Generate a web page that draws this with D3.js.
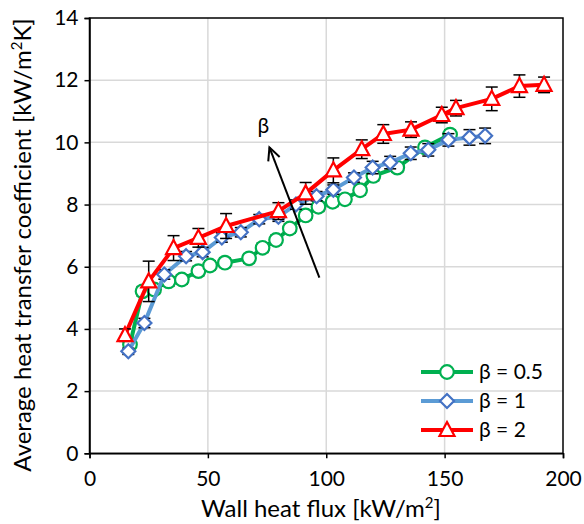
<!DOCTYPE html>
<html><head><meta charset="utf-8">
<script src="https://cdn.jsdelivr.net/npm/d3@7"></script>
<style>body{margin:0;background:#fff;} svg{display:block;font-family:Lato, "Noto Sans", sans-serif;}</style>
</head><body>
<svg id="c" width="584" height="524"></svg>
<script>
// ---- data ----
const greenX = [17.1, 22.4, 27.3, 33.4, 39, 46, 50.9, 57.2, 67.4, 73.1, 78.8, 84.6, 91.3, 96.7, 102.7, 107.9, 114.3, 119.9, 130, 141.7, 152.3];
const greenY = [3.5, 5.21, 5.27, 5.53, 5.59, 5.86, 6.04, 6.13, 6.27, 6.61, 6.86, 7.23, 7.65, 7.93, 8.09, 8.17, 8.46, 8.92, 9.19, 9.84, 10.25];
const greenErr = [0.1, 0.15, 0.15, 0.15, 0.15, 0.15, 0.15, 0.15, 0.15, 0.15, 0.15, 0.15, 0.15, 0.15, 0.15, 0.15, 0.15, 0.15, 0.15, 0.15, 0.15];

const blueX = [16.4, 23.2, 31.6, 40.8, 47.8, 55.9, 63.9, 71.7, 79.8, 87.2, 95.9, 103, 111.7, 119.6, 127, 135.7, 143.1, 151.6, 160.5, 167.1];
const blueY = [3.28, 4.19, 5.75, 6.34, 6.47, 6.94, 7.11, 7.53, 7.61, 8.0, 8.27, 8.48, 8.87, 9.19, 9.35, 9.65, 9.76, 10.08, 10.16, 10.21];
const blueErr = [0.1, 0.15, 0.15, 0.15, 0.15, 0.15, 0.15, 0.15, 0.15, 0.15, 0.15, 0.15, 0.15, 0.2, 0.2, 0.2, 0.2, 0.2, 0.25, 0.25];

const redX = [15, 25, 35.5, 46, 57.7, 79.8, 91.3, 103, 115, 124.1, 135.8, 148.8, 154.8, 169.9, 181.6, 192];
const redY = [3.8, 5.53, 6.6, 6.93, 7.31, 7.79, 8.36, 9.1, 9.78, 10.27, 10.41, 10.88, 11.1, 11.4, 11.81, 11.85];
const redErr = [0.2, 0.65, 0.4, 0.3, 0.4, 0.27, 0.35, 0.4, 0.3, 0.3, 0.25, 0.25, 0.25, 0.38, 0.36, 0.25];

const seriesNames = ["β = 0.5", "β = 1", "β = 2"];
const xTicks = [0, 50, 100, 150, 200];
const yTicks = [0, 2, 4, 6, 8, 10, 12, 14];
const arrowFrom = [97.1, 5.65];
const arrowTo = [76, 9.84];

// ---- layout ----
const L = 89.5, R = 563, T = 18, B = 453.3;
const svg = d3.select("#c");
const x = d3.scaleLinear().domain([0, 200]).range([L, R]);
const y = d3.scaleLinear().domain([0, 14]).range([B, T]);

// gridlines
svg.append("g").selectAll("line.h").data(yTicks.filter(d => d > 0 && d < 14)).join("line")
  .attr("x1", L).attr("x2", R).attr("y1", d => y(d)).attr("y2", d => y(d))
  .attr("stroke", "#d9d9d9").attr("stroke-width", 1.5);
svg.append("g").selectAll("line.v").data(xTicks.filter(d => d > 0 && d < 200)).join("line")
  .attr("y1", T).attr("y2", B).attr("x1", d => x(d)).attr("x2", d => x(d))
  .attr("stroke", "#d9d9d9").attr("stroke-width", 1.5);

// frame
svg.append("rect").attr("x", L).attr("y", T).attr("width", R - L).attr("height", B - T)
  .attr("fill", "none").attr("stroke", "#000").attr("stroke-width", 1.5);

// axes
const xAxis = svg.append("g").attr("transform", `translate(0,${B})`)
  .call(d3.axisBottom(x).tickValues(xTicks).tickSize(5).tickPadding(13));
const yAxis = svg.append("g").attr("transform", `translate(${L},0)`)
  .call(d3.axisLeft(y).tickValues(yTicks).tickSize(5).tickPadding(6));
[xAxis, yAxis].forEach(a => {
  a.select(".domain").attr("stroke", "#000").attr("stroke-width", 1.5);
  a.selectAll(".tick line").attr("stroke", "#000").attr("stroke-width", 1.5);
  a.selectAll("text").attr("font-size", 21).attr("fill", "#000").attr("font-family", "Lato, sans-serif");
});

// series
const series = [
  {xs: greenX, ys: greenY, es: greenErr, color: "#00b050", stroke: "#00b050", marker: "circle"},
  {xs: blueX, ys: blueY, es: blueErr, color: "#5b9bd5", stroke: "#4472c4", marker: "diamond"},
  {xs: redX, ys: redY, es: redErr, color: "#ff0000", stroke: "#ff0000", marker: "triangle"}
];
const line = d3.line().x(d => x(d[0])).y(d => y(d[1]));
function markerPath(type) {
  if (type === "circle") return d3.symbol(d3.symbolCircle, 145)();
  if (type === "diamond") return "M0,-7L7,0L0,7L-7,0Z";
  return "M0,-8L7.5,6L-7.5,6Z";
}
series.forEach(s => {
  const pts = s.xs.map((v, i) => [v, s.ys[i], s.es[i]]);
  const g = svg.append("g");
  g.append("path").datum(pts).attr("d", line).attr("fill", "none")
    .attr("stroke", s.color).attr("stroke-width", 4).attr("stroke-linejoin", "round");
  const eb = g.append("g").selectAll("g").data(pts).join("g");
  eb.append("line").attr("x1", d => x(d[0])).attr("x2", d => x(d[0]))
    .attr("y1", d => y(d[1] - d[2])).attr("y2", d => y(d[1] + d[2]))
    .attr("stroke", "#000").attr("stroke-width", 1.5);
  [-1, 1].forEach(sg => {
    eb.append("line").attr("x1", d => x(d[0]) - 6).attr("x2", d => x(d[0]) + 6)
      .attr("y1", d => y(d[1] + sg * d[2])).attr("y2", d => y(d[1] + sg * d[2]))
      .attr("stroke", "#000").attr("stroke-width", 1.5);
  });
  g.append("g").selectAll("path").data(pts).join("path")
    .attr("d", markerPath(s.marker))
    .attr("transform", d => `translate(${x(d[0])},${y(d[1])})`)
    .attr("fill", "#fff").attr("stroke", s.stroke).attr("stroke-width", 2.2);
});

// arrow annotation
const ax0 = x(arrowFrom[0]), ay0 = y(arrowFrom[1]), ax1 = x(arrowTo[0]), ay1 = y(arrowTo[1]);
svg.append("line").attr("x1", ax0).attr("y1", ay0).attr("x2", ax1).attr("y2", ay1)
  .attr("stroke", "#000").attr("stroke-width", 2);
const ang = Math.atan2(ay1 - ay0, ax1 - ax0);
const hl = 14, ha = 0.45;
svg.append("path")
  .attr("d", `M${ax1 - hl * Math.cos(ang - ha)},${ay1 - hl * Math.sin(ang - ha)}L${ax1},${ay1}L${ax1 - hl * Math.cos(ang + ha)},${ay1 - hl * Math.sin(ang + ha)}`)
  .attr("fill", "none").attr("stroke", "#000").attr("stroke-width", 2);
svg.append("text").attr("x", ax1 - 6).attr("y", ay1 - 14).attr("text-anchor", "middle")
  .attr("font-size", 21).text("β");

// legend
const lg = svg.append("g");
[0, 1, 2].forEach(i => {
  const s = series[i], yy = 372 + i * 29;
  lg.append("line").attr("x1", 421).attr("x2", 473).attr("y1", yy).attr("y2", yy)
    .attr("stroke", s.color).attr("stroke-width", 4);
  lg.append("path").attr("d", markerPath(s.marker)).attr("transform", `translate(447,${yy})`)
    .attr("fill", "#fff").attr("stroke", s.stroke).attr("stroke-width", 2.2);
  lg.append("text").attr("x", 479).attr("y", yy + 7).attr("font-size", 21).text(seriesNames[i]);
});

// axis titles
const xt = svg.append("text").attr("x", 321).attr("y", 517).attr("text-anchor", "middle").attr("font-size", 24);
xt.append("tspan").text("Wall heat flux [kW/m");
xt.append("tspan").attr("font-size", 15).attr("dy", -9).text("2");
xt.append("tspan").attr("dy", 9).text("]");
const yt = svg.append("text").attr("transform", `translate(31,245) rotate(-90)`).attr("text-anchor", "middle").attr("font-size", 24);
yt.append("tspan").text("Average heat transfer coefficient [kW/m");
yt.append("tspan").attr("font-size", 15).attr("dy", -9).text("2");
yt.append("tspan").attr("dy", 9).text("K]");
</script>
</body></html>
